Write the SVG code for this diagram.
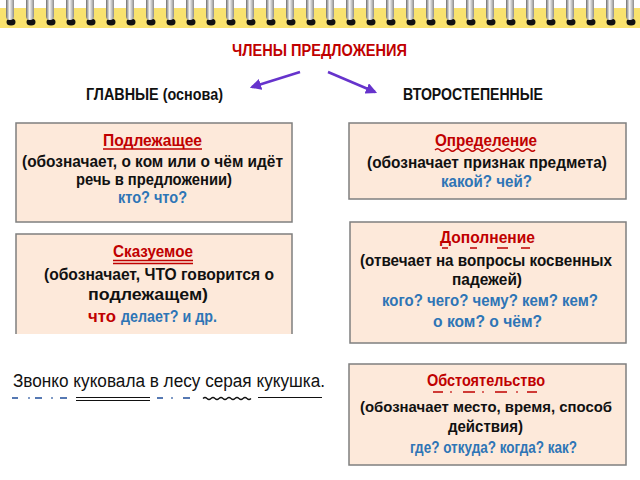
<svg xmlns="http://www.w3.org/2000/svg" xmlns:xlink="http://www.w3.org/1999/xlink" width="640" height="480" viewBox="0 0 640 480">
<style>
text{font-family:"Liberation Sans","Noto Sans",sans-serif;}
.b{font-weight:bold;font-size:17px;fill:#111;}
.red{fill:#C00000;}
.blue{fill:#2E75B6;}
.box{fill:#FDE9DA;stroke:#7F7F7F;stroke-width:1.5;}
.ul{stroke:#C00000;stroke-width:1.5;fill:none;}
.arrow{stroke:#6633CC;stroke-width:2.5;fill:none;marker-end:url(#ah);}
.sl{stroke:#111;stroke-width:1.2;fill:none;}
.sb{stroke:#1F4E9A;stroke-width:1.5;fill:none;}
</style>
<defs>
<linearGradient id="wire" x1="0" x2="1" y1="0" y2="0">
<stop offset="0" stop-color="#6e6e6e"/>
<stop offset="0.45" stop-color="#f7f7f7"/>
<stop offset="1" stop-color="#8c8c8c"/>
</linearGradient>
<g id="ring">
<ellipse cx="1" cy="22" rx="4.5" ry="3.5" fill="#111"/>
<rect x="-4" y="-3" width="8" height="23" rx="4" fill="url(#wire)"/>
</g>
<marker id="ah" viewBox="0 0 10 10" refX="8" refY="5" markerWidth="4.5" markerHeight="4.5" orient="auto">
<path d="M0,0 L10,5 L0,10 z" fill="#6633CC"/>
</marker>
</defs>
<rect width="640" height="480" fill="#fff"/>
<g id="binding">
<rect x="0" y="8" width="640" height="20" fill="#F9E26E"/>
<use xlink:href="#ring" x="10"/><use xlink:href="#ring" x="30"/><use xlink:href="#ring" x="50"/><use xlink:href="#ring" x="70"/>
<use xlink:href="#ring" x="90"/><use xlink:href="#ring" x="110"/><use xlink:href="#ring" x="130"/><use xlink:href="#ring" x="150"/>
<use xlink:href="#ring" x="170"/><use xlink:href="#ring" x="190"/><use xlink:href="#ring" x="210"/><use xlink:href="#ring" x="230"/>
<use xlink:href="#ring" x="250"/><use xlink:href="#ring" x="270"/><use xlink:href="#ring" x="290"/><use xlink:href="#ring" x="310"/>
<use xlink:href="#ring" x="330"/><use xlink:href="#ring" x="350"/><use xlink:href="#ring" x="370"/><use xlink:href="#ring" x="390"/>
<use xlink:href="#ring" x="410"/><use xlink:href="#ring" x="430"/><use xlink:href="#ring" x="450"/><use xlink:href="#ring" x="470"/>
<use xlink:href="#ring" x="490"/><use xlink:href="#ring" x="510"/><use xlink:href="#ring" x="530"/><use xlink:href="#ring" x="550"/>
<use xlink:href="#ring" x="570"/><use xlink:href="#ring" x="590"/><use xlink:href="#ring" x="610"/><use xlink:href="#ring" x="630"/>
</g>
<g id="title">
<text x="232" y="56" textLength="175" lengthAdjust="spacingAndGlyphs" class="b red" style="font-size:16px">ЧЛЕНЫ ПРЕДЛОЖЕНИЯ</text>
</g>
<g id="main-heading">
<text x="86" y="100" textLength="137" lengthAdjust="spacingAndGlyphs" class="b" style="font-size:17px">ГЛАВНЫЕ (основа)</text>
</g>
<g id="secondary-heading">
<text x="403" y="100" textLength="140" lengthAdjust="spacingAndGlyphs" class="b" style="font-size:17px">ВТОРОСТЕПЕННЫЕ</text>
</g>
<g id="connectors">
<path class="arrow" d="M300,72 L252,87"/>
<path class="arrow" d="M328,72 L375,92"/>
</g>
<g id="podlezhashchee">
<rect class="box" x="16" y="123" width="276" height="99"/>
<text x="103" y="146" textLength="99" lengthAdjust="spacingAndGlyphs" class="b red">Подлежащее</text>
<line class="ul" x1="103" y1="149" x2="202" y2="149"/>
<text x="22" y="167" textLength="261" lengthAdjust="spacingAndGlyphs" class="b">(обозначает, о ком или о чём идёт</text>
<text x="76" y="185" textLength="156" lengthAdjust="spacingAndGlyphs" class="b">речь в предложении)</text>
<text x="118" y="203" textLength="69" lengthAdjust="spacingAndGlyphs" class="b blue">кто? что?</text>
</g>
<g id="opredelenie">
<rect class="box" x="349" y="123" width="277" height="76"/>
<text x="435" y="146" textLength="102" lengthAdjust="spacingAndGlyphs" class="b red">Определение</text>
<path class="ul" d="M435,150 q2.5,-2.5 5,0 t5,0 t5,0 t5,0 t5,0 t5,0 t5,0 t5,0 t5,0 t5,0 t5,0 t5,0 t5,0 t5,0 t5,0 t5,0 t5,0 t5,0 t5,0 t5,0"/>
<text x="367" y="168" textLength="240" lengthAdjust="spacingAndGlyphs" class="b">(обозначает признак предмета)</text>
<text x="441" y="187" textLength="91" lengthAdjust="spacingAndGlyphs" class="b blue">какой? чей?</text>
</g>
<g id="skazuemoe">
<rect x="16" y="234" width="276" height="100" fill="#FDE9DA"/>
<path d="M16,334 V234 H292 V334" fill="none" stroke="#7F7F7F" stroke-width="1.5"/>
<text x="113" y="257" textLength="80" lengthAdjust="spacingAndGlyphs" class="b red">Сказуемое</text>
<line class="ul" x1="113" y1="260.5" x2="193" y2="260.5"/>
<line class="ul" x1="113" y1="263.5" x2="193" y2="263.5"/>
<text x="44" y="280" textLength="230" lengthAdjust="spacingAndGlyphs" class="b">(обозначает, ЧТО говорится о</text>
<text x="88" y="300" textLength="120" lengthAdjust="spacingAndGlyphs" class="b">подлежащем)</text>
<text x="88" y="322" textLength="28" lengthAdjust="spacingAndGlyphs" class="b red">что</text>
<text x="121" y="322" textLength="96" lengthAdjust="spacingAndGlyphs" class="b blue">делает? и др.</text>
</g>
<g id="dopolnenie">
<rect class="box" x="350" y="222" width="276" height="121"/>
<text x="440" y="243" textLength="95" lengthAdjust="spacingAndGlyphs" class="b red">Дополнение</text>
<path class="ul" d="M442,248 h6 M470,248 h7 M497,248 h11 M521,248 h9"/>
<text x="360" y="266" textLength="252" lengthAdjust="spacingAndGlyphs" class="b" style="font-size:16px">(отвечает на вопросы косвенных</text>
<text x="452" y="285" textLength="70" lengthAdjust="spacingAndGlyphs" class="b">падежей)</text>
<text x="382" y="306" textLength="216" lengthAdjust="spacingAndGlyphs" class="b blue">кого? чего? чему? кем? кем?</text>
<text x="433" y="327" textLength="109" lengthAdjust="spacingAndGlyphs" class="b blue">о ком? о чём?</text>
</g>
<g id="obstoyatelstvo">
<rect class="box" x="349" y="364" width="277" height="101"/>
<text x="427" y="386" textLength="118" lengthAdjust="spacingAndGlyphs" class="b red">Обстоятельство</text>
<path class="ul" d="M433,392 h10 M463,392 h12 M495,392 h12 M527,392 h10"/>
<path class="ul" d="M451,391.3 v1.5 M483,391.3 v1.5 M517,391.3 v1.5"/>
<text x="360" y="412" textLength="252" lengthAdjust="spacingAndGlyphs" class="b" style="font-size:15px">(обозначает место, время, способ</text>
<text x="448" y="432" textLength="75" lengthAdjust="spacingAndGlyphs" class="b">действия)</text>
<text x="410" y="453" textLength="167" lengthAdjust="spacingAndGlyphs" class="b blue">где? откуда? когда? как?</text>
</g>
<g id="example">
<text x="13" y="387" textLength="312" lengthAdjust="spacingAndGlyphs" style="font-size:18px;fill:#111">Звонко куковала в лесу серая кукушка.</text>
<path class="sb" d="M12,398 h6 M35,398 h7 M60,398 h7 M157,398 h6 M183,398 h7"/>
<path class="sb" d="M29,397.3 v1.5 M52,397.3 v1.5 M172,397.3 v1.5"/>
<line class="sl" x1="76" y1="397.5" x2="150" y2="397.5"/>
<line class="sl" x1="76" y1="400.5" x2="150" y2="400.5"/>
<path class="sl" d="M203,398.5 q2,-2 4,0 t4,0 t4,0 t4,0 t4,0 t4,0 t4,0 t4,0 t4,0 t4,0 t4,0 t4,0"/>
<line class="sl" x1="258" y1="397.5" x2="322" y2="397.5"/>
</g>
</svg>
